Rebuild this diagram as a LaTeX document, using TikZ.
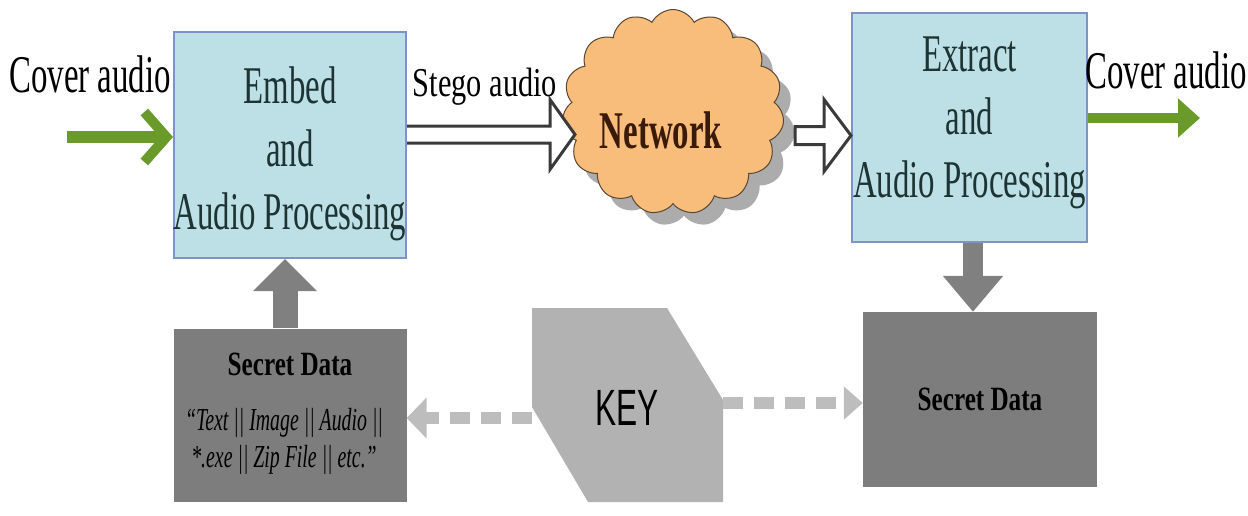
\documentclass[tikz,border=0pt]{standalone}
\usepackage{fontspec}
\usetikzlibrary{shapes.symbols,arrows.meta,calc}
\newfontfamily\tnrA[FakeStretch=0.62]{Liberation Serif}
\newfontfamily\tnrB[FakeStretch=0.74]{Liberation Serif}
\newfontfamily\keyfont[FakeStretch=0.62]{Liberation Sans}
\definecolor{boxfill}{HTML}{BDE0E6}
\definecolor{boxborder}{HTML}{7F92CC}
\definecolor{boxtext}{HTML}{1E3434}
\definecolor{greenarr}{HTML}{6A9A2A}
\definecolor{grayarr}{HTML}{808080}
\definecolor{secretfill}{HTML}{7D7D7D}
\definecolor{keyfill}{HTML}{B2B2B2}
\definecolor{dasharr}{HTML}{BDBDBD}
\definecolor{cloudfill}{HTML}{F9BD7B}
\definecolor{cloudline}{HTML}{5A4632}
\definecolor{netText}{HTML}{3A1A08}
\definecolor{hollowline}{HTML}{3A3A3A}
\begin{document}
\begin{tikzpicture}[x=1pt,y=-1pt,
  procbox/.style={draw=boxborder,line width=2pt,fill=boxfill,inner sep=0pt},
  boxlabel/.style={align=center,text=boxtext,inner sep=0pt,font=\tnrA\fontsize{53}{63}\selectfont},
  biglabel/.style={inner sep=0pt,text=black,font=\tnrA\fontsize{53}{63}\selectfont},
  secretbox/.style={fill=secretfill,inner sep=0pt},
  greenline/.style={draw=greenarr,line width=12pt},
  grayline/.style={draw=grayarr},
  dashline/.style={draw=dasharr,line width=12pt,dash pattern=on 20pt off 11pt},
  hollow/.style={draw=hollowline,line width=3pt,fill=white,line join=miter},
  cloudshape/.style={cloud,cloud puffs=15,cloud puff arc=125,aspect=1.05,minimum width=222pt,minimum height=205pt,inner sep=0pt}
]
\useasboundingbox (0,0) rectangle (1248,515);
\fill[white] (0,0) rectangle (1248,515);

% process boxes
\node[procbox,minimum width=232pt,minimum height=226pt] (embed) at (290,145) {};
\node[boxlabel] (embedT) at (290,154) {Embed\\and\\Audio Processing};
\node[procbox,minimum width=235pt,minimum height=229pt] (extract) at (969.5,127.5) {};
\node[boxlabel] (extractT) at (969.5,123) {Extract\\and\\Audio Processing};

% secret data boxes
\node[secretbox,minimum width=233pt,minimum height=173pt] (secretL) at (290,415) {};
\node[inner sep=0pt,anchor=base,font=\tnrB\bfseries\fontsize{34}{40}\selectfont] (secretLT) at (290,375) {Secret Data};
\node[inner sep=0pt,anchor=base,font=\tnrA\itshape\fontsize{32}{37}\selectfont] (secretL1) at (284,430) {“Text || Image || Audio ||};
\node[inner sep=0pt,anchor=base,font=\tnrA\itshape\fontsize{32}{37}\selectfont] (secretL2) at (284,467) {*.exe || Zip File || etc.”};
\node[secretbox,minimum width=234pt,minimum height=175pt] (secretR) at (980,399.5) {};
\node[inner sep=0pt,anchor=base,font=\tnrB\bfseries\fontsize{34}{40}\selectfont] (secretRT) at (980,410) {Secret Data};

% KEY shape
\fill[keyfill] (532,308) -- (667,308) -- (723,400) -- (723,502) -- (588,502) -- (532,407) -- cycle;
\node[inner sep=0pt,anchor=base,font=\keyfont\fontsize{51}{60}\selectfont] (key) at (627,425) {KEY};
\coordinate (keyL) at (532,418);
\coordinate (keyR) at (723,403);

% cloud with shadow
\node[cloudshape,fill=black!50,opacity=0.65] (cloudS) at (684,124) {};
\node[cloudshape,fill=cloudfill,draw=cloudline,line width=1pt] (cloud) at (673,112) {};
\node[inner sep=0pt,anchor=base,text=netText,font=\tnrA\bfseries\fontsize{53}{63}\selectfont] (netT) at (661,148) {Network};

% labels
\node[biglabel,anchor=base] (coverL) at (90,92) {Cover audio};
\node[biglabel,anchor=base] (coverR) at (1166,88) {Cover audio};
\node[inner sep=0pt,anchor=base,font=\tnrB\fontsize{41}{48}\selectfont] (stego) at (485,96) {Stego audio};

% hollow arrows
\coordinate (h1s) at (embed.east |- 0,134.5);
\coordinate (h1e) at (575,134.5);
\draw[hollow] ($(h1s)+(0,-8.5)$) -- ($(h1e)+(-25,-8.5)$) -- ($(h1e)+(-25,-35)$) -- (h1e)
   -- ($(h1e)+(-25,35)$) -- ($(h1e)+(-25,8.5)$) -- ($(h1s)+(0,8.5)$);
\coordinate (h2s) at (795,135.5);
\coordinate (h2e) at (extract.west |- 0,135.5);
\draw[hollow] ($(h2s)+(0,-9)$) -- ($(h2e)+(-27,-9)$) -- ($(h2e)+(-27,-36)$) -- (h2e)
   -- ($(h2e)+(-27,36)$) -- ($(h2e)+(-27,9)$) -- ($(h2s)+(0,9)$) -- cycle;

% green arrows
\coordinate (gin) at (67,137);
\draw[greenline,-{Straight Barb[length=22pt,width=50pt,line width=10pt]}] (gin) -- (embed.west |- gin);
\coordinate (gout) at (1200,118);
\draw[greenline,line width=10pt,-{Triangle[length=22pt,width=38pt]}] (extract.east |- gout) -- (gout);

% gray arrows
\draw[grayline,line width=25pt,-{Triangle[length=32pt,width=62pt]}] (secretL.north -| 285,0) -- (embed.south -| 285,0);
\draw[grayline,line width=20pt,-{Triangle[length=36pt,width=58pt]}] (extract.south -| 973,0) -- (secretR.north -| 973,0);

% dashed key arrows
\draw[dashline,-{Triangle[length=20pt,width=40pt]}] (keyL) -- (secretL.east |- keyL);
\draw[dashline,-{Triangle[length=19pt,width=32pt]}] (keyR) -- (secretR.west |- keyR);
\end{tikzpicture}
\end{document}
